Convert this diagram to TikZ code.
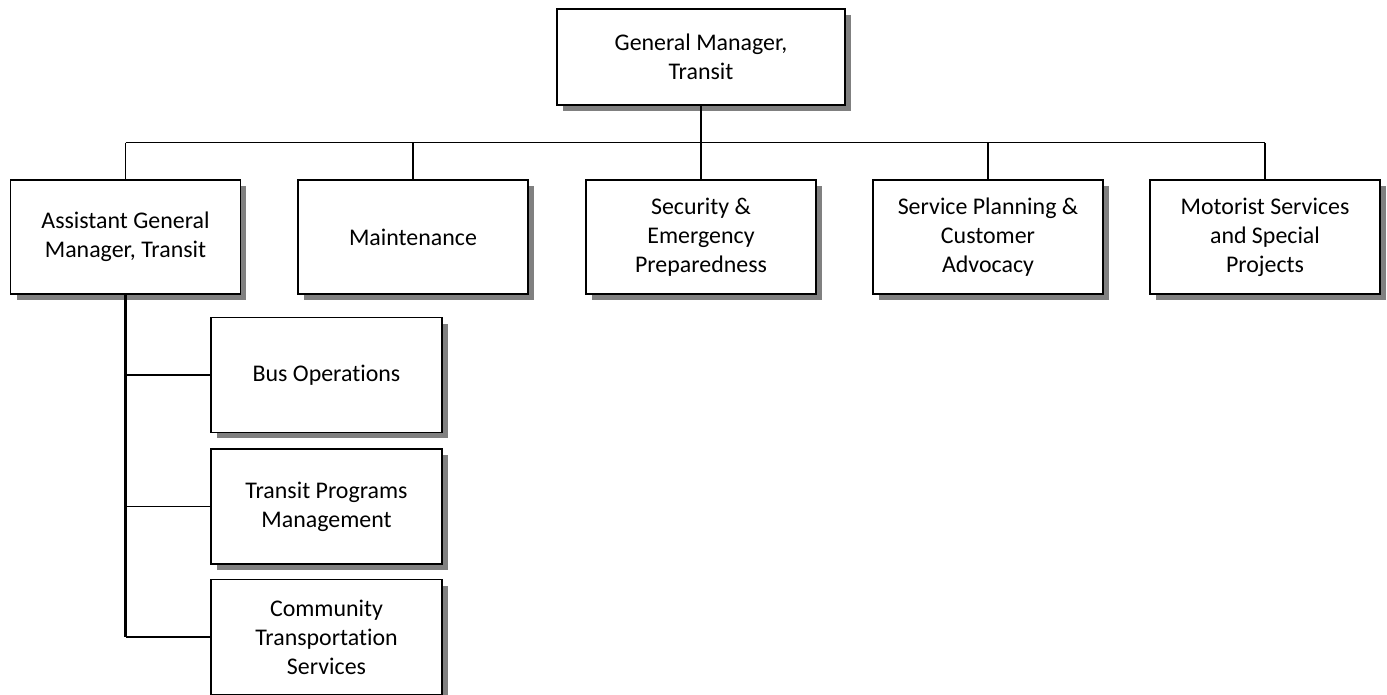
\documentclass[tikz,border=0pt]{standalone}
\usepackage{fontspec}
\setmainfont[Ligatures=NoCommon]{Carlito}
\usetikzlibrary{shadows}
\begin{document}
\begin{tikzpicture}[x=0.02cm,y=-0.02cm,
    unit/.style={draw,fill=white,line width=0.85pt,align=center,
      minimum width=4.6cm,minimum height=2.28cm,inner sep=2pt,
      font=\fontsize{13.6}{16.5}\selectfont,
      drop shadow={shadow xshift=0.12cm,shadow yshift=-0.12cm,fill=black!50,opacity=1}},
    link/.style={line width=0.75pt}]
    \useasboundingbox (0,0) rectangle (1387,694);
    % Direzione
    \node[unit,minimum width=5.76cm,minimum height=1.92cm] (gm) at (701,57) {General Manager,\\Transit};
    % Primo livello
    \node[unit] (agm) at (125.5,237) {Assistant General\\Manager, Transit};
    \node[unit] (mnt) at (413,237) {Maintenance};
    \node[unit] (sec) at (701,237) {Security \&\\Emergency\\Preparedness};
    \node[unit] (spc) at (988,237) {Service Planning \&\\Customer\\Advocacy};
    \node[unit] (mot) at (1265,237) {Motorist Services\\and Special\\Projects};
    % Secondo livello
    \node[unit,minimum width=4.62cm,minimum height=2.3cm] (busop) at (326.5,375) {Bus Operations};
    \node[unit,minimum width=4.62cm,minimum height=2.3cm] (tpm) at (326.5,506.5) {Transit Programs\\Management};
    \node[unit,minimum width=4.62cm,minimum height=2.3cm] (cts) at (326.5,637) {Community\\Transportation\\Services};
    % Collegamenti
    \coordinate (hbar) at (701,142.5);
    \draw[line width=1.4pt] (gm.south) -- (hbar);
    \draw[link] (hbar) -- (sec.north);
    \draw[link] (agm.north |- hbar) -- (mot.north |- hbar);
    \foreach \n in {agm,mnt,spc,mot}
        \draw[link] (\n.north |- hbar) -- (\n.north);
    \draw[line width=1.2pt] (agm.south) -- (agm.south |- cts.west);
    \foreach \n in {busop,tpm,cts}
        \draw[link] (agm.south |- \n.west) -- (\n.west);
\end{tikzpicture}
\end{document}
